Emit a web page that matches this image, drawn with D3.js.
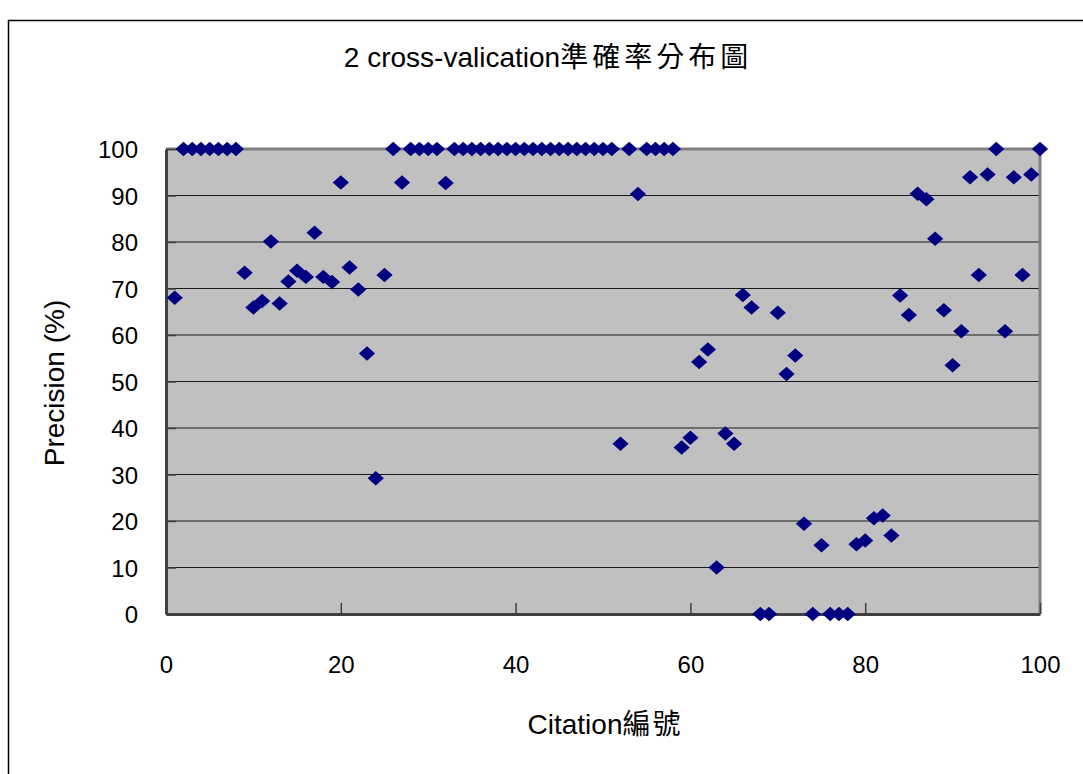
<!DOCTYPE html>
<html>
  <head>
    <meta charset="utf-8">
    <title>2 cross-valication</title>
    <script src="https://cdn.jsdelivr.net/npm/d3@7"></script>
    <style>
      body, html {
        margin: 0;
        padding: 0;
        background: #fff;
      }
      text {
        font-family: "Liberation Sans", Arial, "Noto Sans CJK TC", sans-serif;
        fill: #000;
      }
    </style>
  </head>
  <body>
    <svg id="svg" width="1083" height="774"></svg>
    <script>
      // citation numbers 1..100 and their precision (%)
      const citations = d3.range(1, 101);
      const precision = [
        68, 100, 100, 100, 100, 100, 100, 100, 73.4, 65.9,
        67.3, 80.1, 66.8, 71.5, 73.8, 72.5, 82, 72.5, 71.4, 92.8,
        74.5, 69.8, 56, 29.2, 72.9, 100, 92.8, 100, 100, 100,
        100, 92.7, 100, 100, 100, 100, 100, 100, 100, 100,
        100, 100, 100, 100, 100, 100, 100, 100, 100, 100,
        100, 36.6, 100, 90.3, 100, 100, 100, 100, 35.8, 37.9,
        54.2, 56.9, 10, 38.8, 36.6, 68.6, 65.9, 0, 0, 64.8,
        51.6, 55.6, 19.4, 0, 14.8, 0, 0, 0, 15, 15.8,
        20.6, 21.2, 16.9, 68.5, 64.3, 90.4, 89.2, 80.7, 65.3, 53.5,
        60.8, 93.9, 72.9, 94.5, 100, 60.8, 93.9, 72.9, 94.5, 100
      ];
      const xTicks = [0, 20, 40, 60, 80, 100];
      const yTicks = [0, 10, 20, 30, 40, 50, 60, 70, 80, 90, 100];

      const points = citations.map((c, i) => ({ x: c, y: precision[i] }));

      const plotL = 166, plotR = 1040, plotT = 149, plotB = 614;

      const xscale = d3.scaleLinear().domain([0, 100]).range([plotL, plotR]);
      const yscale = d3.scaleLinear().domain([0, 100]).range([plotB, plotT]);

      const svg = d3.select('#svg');

      // outer chart frame
      svg.append('rect')
        .attr('x', 8.5).attr('y', 20.5)
        .attr('width', 1100).attr('height', 800)
        .attr('fill', 'none')
        .attr('stroke', '#000')
        .attr('stroke-width', 1.5);

      // plot area background
      svg.append('rect')
        .attr('x', plotL).attr('y', plotT)
        .attr('width', plotR - plotL).attr('height', plotB - plotT)
        .attr('fill', '#c0c0c0');

      // gridlines
      svg.append('g')
        .selectAll('line')
        .data(yTicks.filter(d => d > 0 && d < 100))
        .join('line')
        .attr('x1', plotL).attr('x2', plotR)
        .attr('y1', d => yscale(d)).attr('y2', d => yscale(d))
        .attr('stroke', '#1a1a1a')
        .attr('stroke-width', 1.2);

      // top & right border of plot
      svg.append('path')
        .attr('d', `M${plotL},${plotT}H${plotR}V${plotB}`)
        .attr('fill', 'none')
        .attr('stroke', '#808080')
        .attr('stroke-width', 3);

      // axes
      const leftAxis = d3.axisLeft(yscale)
        .tickValues(yTicks)
        .tickSizeInner(-10)
        .tickSizeOuter(0)
        .tickPadding(28);
      const bottomAxis = d3.axisBottom(xscale)
        .tickValues(xTicks)
        .tickSizeInner(-11)
        .tickSizeOuter(0)
        .tickPadding(42);

      const gy = svg.append('g')
        .attr('transform', `translate(${plotL},0)`)
        .call(leftAxis);
      const gx = svg.append('g')
        .attr('transform', `translate(0,${plotB})`)
        .call(bottomAxis);

      [gx, gy].forEach(g => {
        g.select('.domain').attr('stroke', '#404040').attr('stroke-width', 3);
        g.selectAll('.tick line').attr('stroke', '#404040').attr('stroke-width', 1.5);
        g.selectAll('.tick text')
          .attr('font-size', 24)
          .attr('font-family', '"Liberation Sans", Arial, sans-serif');
      });
      gy.selectAll('.tick text').attr('dy', '0.36em');

      // points
      svg.append('g')
        .selectAll('path')
        .data(points)
        .join('path')
        .attr('d', d3.symbol(d3.symbolSquare, 105))
        .attr('transform', d => `translate(${xscale(d.x)},${yscale(d.y)}) scale(1.12,1) rotate(45)`)
        .attr('fill', '#000080');

      // title & axis titles
      const title = svg.append('text')
        .attr('x', 548).attr('y', 67)
        .attr('text-anchor', 'middle')
        .attr('font-size', 28);
      title.append('tspan').text('2 cross-valication');
      title.append('tspan').attr('letter-spacing', 4).text('準確率分布圖');

      const xTitle = svg.append('text')
        .attr('x', 605).attr('y', 734)
        .attr('text-anchor', 'middle')
        .attr('font-size', 28);
      xTitle.append('tspan').text('Citation');
      xTitle.append('tspan').attr('letter-spacing', 2).text('編號');

      svg.append('text')
        .attr('transform', 'translate(64,383) rotate(-90)')
        .attr('text-anchor', 'middle')
        .attr('font-size', 28)
        .text('Precision (%)');
    </script>
  </body>
</html>
